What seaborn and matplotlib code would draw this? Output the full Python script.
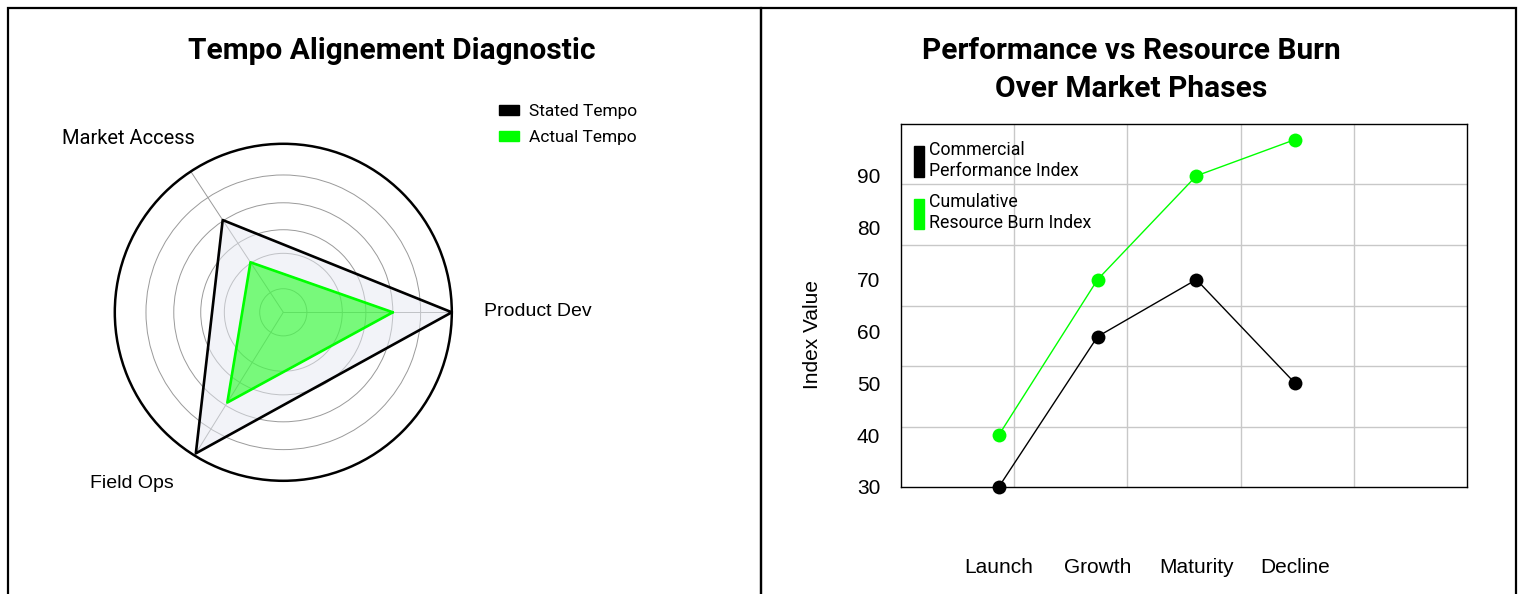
import numpy as np
import pandas as pd
import matplotlib
matplotlib.use("Agg")
import matplotlib.pyplot as plt
from matplotlib.patches import Patch, Rectangle
import seaborn as sns

# Radar chart: tempo by dimension (0-10 scale)
dimensions = ["Product Dev", "Market Access", "Field Ops"]
stated_tempo = [10.0, 6.55, 9.85]
actual_tempo = [6.5, 3.55, 6.3]
radar_series = ["Stated Tempo", "Actual Tempo"]

# Line chart: index values by market phase
phases = ["Launch", "Growth", "Maturity", "Decline"]
commercial_performance = [30, 59, 70, 50]
resource_burn = [40, 70, 90, 97]
line_series = ["Commercial\nPerformance Index", "Cumulative\nResource Burn Index"]
y_ticks = [30, 40, 50, 60, 70, 80, 90]

W, H = 1521, 594
sns.set_theme(style="white")
plt.rcParams["font.family"] = ["Liberation Sans", "DejaVu Sans"]
plt.rcParams.update({"text.color": "black", "axes.labelcolor": "black",
                     "xtick.color": "black", "ytick.color": "black"})
TITLE_FONT = ["Roboto", "DejaVu Sans"]

fig = plt.figure(figsize=(W / 100, H / 100), dpi=100)
fig.patch.set_facecolor("white")


def fx(px):
    return px / W


def fy(py):
    return 1 - py / H


# Panel frames
for x0, x1 in [(8, 761), (761, 1516)]:
    fig.add_artist(Rectangle((fx(x0), fy(640)), fx(x1 - x0), (640 - 8) / H,
                             fill=False, edgecolor="black", lw=1.6,
                             transform=fig.transFigure))

# ---------------- Radar chart ----------------
cx, cy, R = 283.3, 312.3, 168.5
ax_r = fig.add_axes([fx(cx - R), fy(cy + R), fx(2 * R), 2 * R / H], projection="polar")
spoke_deg = [0, 123.3, 238.2]
theta = np.deg2rad(spoke_deg)
th = np.append(theta, theta[0])


def closed(v):
    return list(v) + [v[0]]


ax_r.set_axisbelow(True)
ax_r.fill(th, closed(stated_tempo), color="#e6e9f2", alpha=0.5, zorder=2)
ax_r.fill(th, closed(actual_tempo), color="#00ff00", alpha=0.5, zorder=3)
ax_r.plot(th, closed(stated_tempo), color="black", lw=1.9, zorder=4)
ax_r.plot(th, closed(actual_tempo), color="#00ff00", lw=1.9, zorder=5)
ax_r.set_ylim(0, 10)
ax_r.set_rgrids([1.4, 3.5, 4.9, 6.5, 8.15], labels=[])
ax_r.set_thetagrids(spoke_deg, labels=[])
ax_r.grid(True, color="#9a9a9a", lw=0.7)
ax_r.spines["polar"].set_color("black")
ax_r.spines["polar"].set_linewidth(1.8)
ax_r.set_facecolor("white")

label_xy = [(538, 311), (128, 139), (132, 484)]
for name, (lx, ly) in zip(dimensions, label_xy):
    fig.text(fx(lx), fy(ly), name, ha="center", va="center",
             fontsize=14.5 if name == "Market Access" else 14,
             family=TITLE_FONT if name == "Market Access" else None)

fig.text(fx(392), fy(51), "Tempo Alignement Diagnostic", ha="center", va="center",
         fontsize=21.5, fontweight="bold", family=TITLE_FONT)

fig.legend(handles=[Patch(color="black"), Patch(color="#00ff00")], labels=radar_series,
           loc="upper left", bbox_to_anchor=(fx(499), fy(104)), frameon=False,
           handlelength=1.15, handleheight=0.55, handletextpad=0.6, labelspacing=0.65,
           borderpad=0, borderaxespad=0, prop={"family": TITLE_FONT, "size": 12.5})

# ---------------- Line chart ----------------
rect = [fx(901), fy(487), fx(566), 363 / H]
gax = fig.add_axes(rect, zorder=0)
gax.set_xlim(0, 5)
gax.set_ylim(0, 6)
gax.set_xticks(range(1, 5))
gax.set_yticks(range(1, 6))
gax.grid(True, color="#c8c8c8", lw=1.0)
gax.tick_params(labelleft=False, labelbottom=False, length=0)
for s in gax.spines.values():
    s.set_visible(False)

ax = fig.add_axes(rect, zorder=1)
ax.set_facecolor("none")

df = pd.DataFrame({
    "phase": phases * 2,
    "value": commercial_performance + resource_burn,
    "series": [line_series[0]] * len(phases) + [line_series[1]] * len(phases),
})
sns.lineplot(data=df, x="phase", y="value", hue="series",
             palette={line_series[0]: "black", line_series[1]: "#00ff00"},
             marker="o", markersize=10, markeredgewidth=0, lw=1.0,
             sort=False, legend=False, ax=ax)
for ln in ax.lines:
    ln.set_clip_on(False)

ax.set_xlim(-0.99, 4.74)
ax.set_ylim(30.57, 100)
ax.set_yticks(y_ticks)
ax.grid(False)
ax.set_xlabel("")
ax.set_ylabel("Index Value", fontsize=15)
ax.yaxis.set_label_coords(-0.14, 0.419)
ax.tick_params(axis="y", length=0, pad=15, labelsize=15)
ax.tick_params(axis="x", length=0, pad=51, labelsize=15)
for s in ax.spines.values():
    s.set_visible(True)
    s.set_color("black")
    s.set_linewidth(1.0)

ax.legend(handles=[Patch(color="black"), Patch(color="#00ff00")], labels=line_series,
          loc="upper left", bbox_to_anchor=(13 / 566, 1 - 17 / 363), frameon=False,
          handlelength=0.55, handleheight=2.3, handletextpad=0.3, labelspacing=0.75,
          borderpad=0, borderaxespad=0, prop={"family": TITLE_FONT, "size": 12.8})

fig.text(fx(1131), fy(70), "Performance vs Resource Burn\nOver Market Phases",
         ha="center", va="center", fontsize=21.5, fontweight="bold", family=TITLE_FONT,
         linespacing=1.45)

fig.savefig("out.png", dpi=100, facecolor="white")
